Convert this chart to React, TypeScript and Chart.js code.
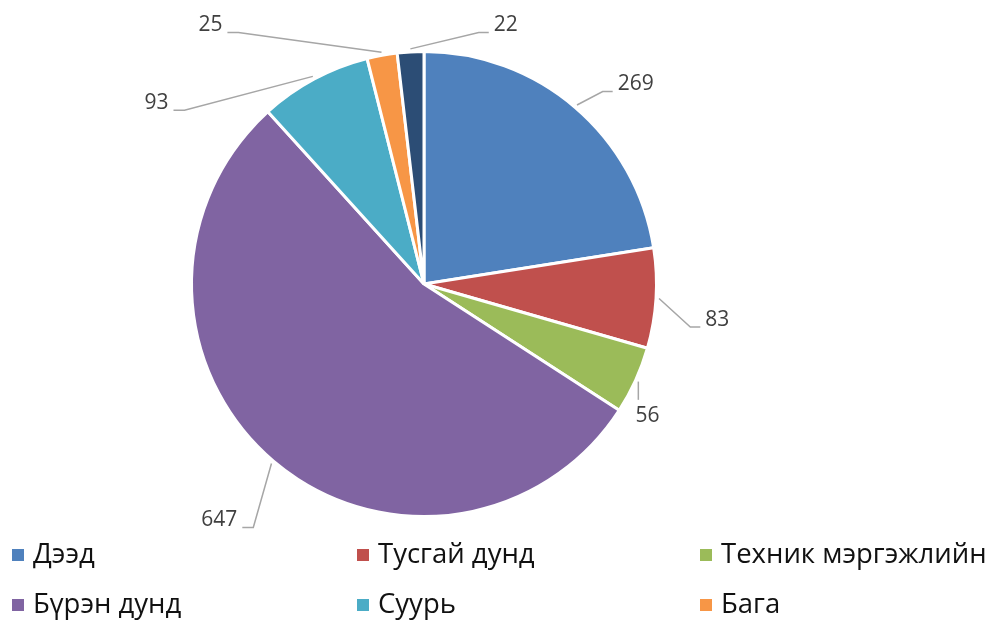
import React, { useEffect, useRef } from "react";
import { Chart, registerables } from "chart.js";
Chart.register(...registerables);

const categories = [
  "Дээд",
  "Тусгай дунд",
  "Техник мэргэжлийн",
  "Бүрэн дунд",
  "Суурь",
  "Бага",
  "Боловсролгүй",
];
const values = [269, 83, 56, 647, 93, 25, 22];
const colors = ["#4F81BD", "#C0504D", "#9BBB59", "#8064A2", "#4BACC6", "#F79646", "#2C4D75"];

// data label placement, relative to pie centre in units of radius
const labelLayout = [
  { x: 0.833, y: -0.858, side: "right" },
  { x: 1.21, y: 0.155, side: "right" },
  { x: 0.961, y: 0.567, side: "below" },
  { x: -0.803, y: 1.017, side: "left" },
  { x: -1.099, y: -0.777, side: "left" },
  { x: -0.867, y: -1.112, side: "left" },
  { x: 0.3, y: -1.112, side: "right" },
];

const FONT = "'Open Sans', 'Noto Sans', sans-serif";

const overlayPlugin = {
  id: "overlay",
  afterDraw(chart: any) {
    const ctx = chart.ctx as CanvasRenderingContext2D;
    const meta = chart.getDatasetMeta(0);
    ctx.save();
    meta.data.forEach((arc: any, i: number) => {
      const { x: cx, y: cy, startAngle, endAngle, outerRadius: R } = arc.getProps(
        ["x", "y", "startAngle", "endAngle", "outerRadius"],
        true
      );
      const mid = (startAngle + endAngle) / 2;
      const ax = cx + Math.cos(mid) * (R + 3);
      const ay = cy + Math.sin(mid) * (R + 3);
      const L = labelLayout[i];
      const tx = cx + L.x * R;
      const ty = cy + L.y * R;
      ctx.strokeStyle = "#A6A6A6";
      ctx.lineWidth = 1.5;
      ctx.beginPath();
      ctx.moveTo(ax, ay);
      if (L.side === "right") {
        ctx.lineTo(tx - 15, ty + 7);
        ctx.lineTo(tx - 5, ty + 7);
      } else if (L.side === "left") {
        ctx.lineTo(tx + 16, ty + 7);
        ctx.lineTo(tx + 5, ty + 7);
      } else {
        ctx.lineTo(ax, ty - 16);
      }
      ctx.stroke();
      ctx.fillStyle = "#404040";
      ctx.font = `21px ${FONT}`;
      ctx.textBaseline = "middle";
      ctx.textAlign = L.side === "right" ? "left" : L.side === "left" ? "right" : "center";
      ctx.fillText(String(values[i]), tx, ty);
    });

    // legend (three columns)
    const colX = [12, 357, 700];
    const rowY = [555, 605];
    categories.forEach((name, i) => {
      const col = i % 3;
      const row = Math.floor(i / 3);
      const x = colX[col];
      const y = row < rowY.length ? rowY[row] : rowY[1] + (row - 1) * 50;
      ctx.fillStyle = colors[i];
      ctx.fillRect(x, y - 6, 12, 12);
      ctx.fillStyle = "#111111";
      ctx.font = `27.5px ${FONT}`;
      ctx.textAlign = "left";
      ctx.textBaseline = "middle";
      ctx.fillText(name, x + 21, y);
    });
    ctx.restore();
  },
};

export default function App() {
  const ref = useRef<HTMLCanvasElement | null>(null);
  useEffect(() => {
    document.body.style.margin = "0";
    if (!ref.current) return;
    const chart = new Chart(ref.current, {
      type: "pie",
      data: {
        labels: categories,
        datasets: [
          {
            data: values,
            backgroundColor: colors,
            borderColor: "#FFFFFF",
            borderWidth: 3,
          },
        ],
      },
      options: {
        responsive: false,
        animation: false,
        layout: { padding: { top: 50, bottom: 103, left: 190, right: 332 } },
        plugins: {
          legend: { display: false },
          tooltip: { enabled: false },
          title: { display: false },
        },
      },
      plugins: [overlayPlugin],
    });
    return () => chart.destroy();
  }, []);
  return (
    <div style={{ width: 990, height: 621, background: "#fff" }}>
      <canvas ref={ref} width={990} height={621} />
    </div>
  );
}
